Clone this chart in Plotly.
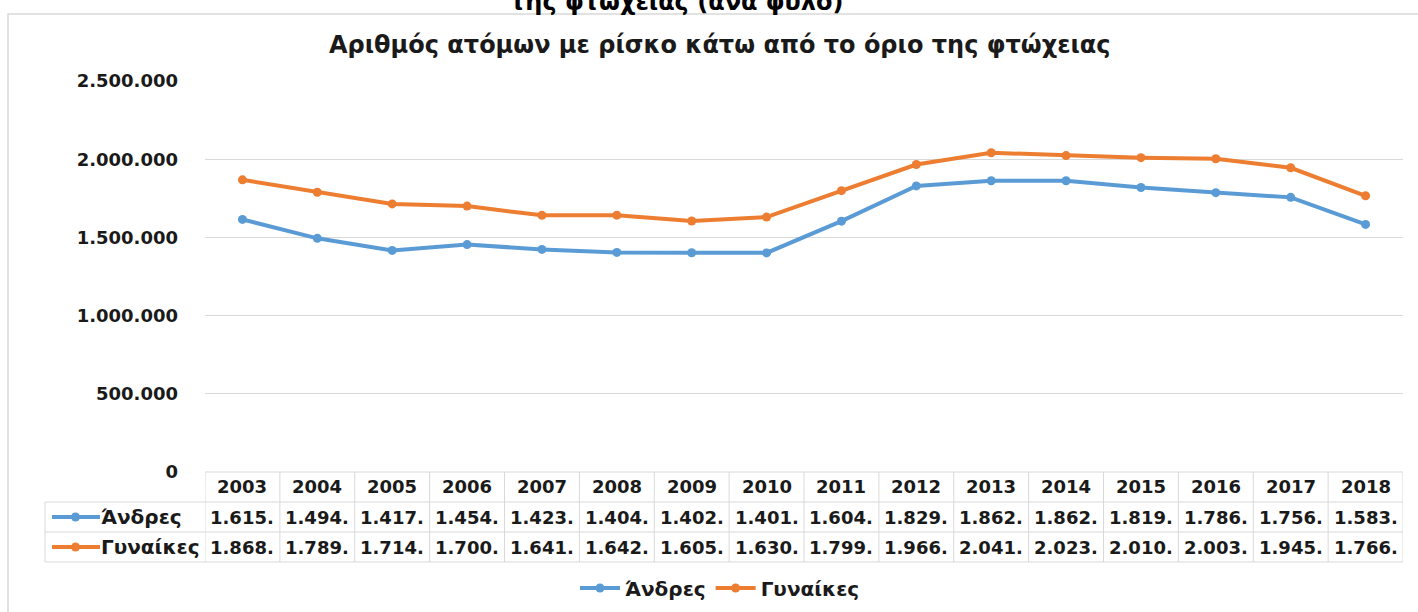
import plotly.graph_objects as go

years = [2003, 2004, 2005, 2006, 2007, 2008, 2009, 2010,
         2011, 2012, 2013, 2014, 2015, 2016, 2017, 2018]
andres = [1615000, 1494000, 1417000, 1454000, 1423000, 1404000, 1402000, 1401000,
          1604000, 1829000, 1862000, 1862000, 1819000, 1786000, 1756000, 1583000]
gynaikes = [1868000, 1789000, 1714000, 1700000, 1641000, 1642000, 1605000, 1630000,
            1799000, 1966000, 2041000, 2023000, 2010000, 2003000, 1945000, 1766000]
series_names = ["Άνδρες", "Γυναίκες"]
colors = ["#5B9BD5", "#ED7D31"]
y_ticks = [0, 500000, 1000000, 1500000, 2000000, 2500000]

W, H = 1418, 612
FONT = "DejaVu Sans"
GRID = "#d9d9d9"


def py(pix):
    # pixel row -> paper fraction
    return 1 - pix / H


def dotted(v):
    return f"{v:,}".replace(",", ".")


def cut(v):
    # the data table shows the numbers cut after the thousands
    return dotted(v // 1000) + "."


idx = list(range(len(years)))
fig = go.Figure()
for name, vals, col in zip(series_names, [andres, gynaikes], colors):
    fig.add_trace(go.Scatter(
        x=idx, y=vals, name=name, mode="lines+markers",
        line=dict(color=col, width=4),
        marker=dict(color=col, size=9),
    ))

plot_top, plot_bot = 81, 472
row_h = 30
shapes = []
annots = []

# outer chart border (only top and left are inside the picture)
shapes.append(dict(type="rect", xref="paper", yref="paper",
                   x0=8 / W, x1=1425 / W, y0=py(620), y1=py(14),
                   line=dict(color=GRID, width=1.5)))

# data table grid
n = len(years)
for i in range(n + 1):
    shapes.append(dict(type="line", xref="x", yref="paper",
                       x0=i - 0.5, x1=i - 0.5, y0=py(plot_bot), y1=py(plot_bot + 3 * row_h),
                       line=dict(color=GRID, width=1)))
shapes.append(dict(type="line", xref="x", yref="paper",
                   x0=-0.5, x1=n - 0.5, y0=py(plot_bot), y1=py(plot_bot),
                   line=dict(color=GRID, width=1)))
for r in (1, 2, 3):
    shapes.append(dict(type="line", xref="paper", yref="paper",
                       x0=45 / W, x1=1403 / W,
                       y0=py(plot_bot + r * row_h), y1=py(plot_bot + r * row_h),
                       line=dict(color=GRID, width=1)))
shapes.append(dict(type="line", xref="paper", yref="paper",
                   x0=45 / W, x1=45 / W, y0=py(plot_bot + row_h), y1=py(plot_bot + 3 * row_h),
                   line=dict(color=GRID, width=1)))

cell_font = dict(family=FONT, size=18, color="#1a1a1a", weight="bold")
label_font = dict(family=FONT, size=20, color="#1a1a1a", weight="bold")
for i, yr in enumerate(years):
    annots.append(dict(x=i, y=py(plot_bot + row_h / 2), xref="x", yref="paper",
                       xanchor="center", yanchor="middle",
                       text=str(yr), showarrow=False, font=cell_font))
for r, (vals, col, name) in enumerate(zip([andres, gynaikes], colors, series_names)):
    yc = py(plot_bot + row_h * (r + 1.5))
    for i, v in enumerate(vals):
        annots.append(dict(x=i, y=yc, xref="x", yref="paper",
                           xanchor="center", yanchor="middle",
                           text=cut(v), showarrow=False, font=cell_font))
    # legend key inside the table
    shapes.append(dict(type="line", xref="paper", yref="paper",
                       x0=52 / W, x1=100 / W, y0=yc, y1=yc,
                       line=dict(color=col, width=4)))
    shapes.append(dict(type="circle", xref="paper", yref="paper",
                       x0=71 / W, x1=80 / W,
                       y0=yc - 4.5 / H, y1=yc + 4.5 / H,
                       fillcolor=col, line=dict(color=col, width=0)))
    annots.append(dict(x=99 / W, y=yc, xref="paper", yref="paper",
                       xanchor="left", yanchor="middle",
                       text=name, showarrow=False, font=label_font))

# chart title and the clipped heading above the chart
annots.append(dict(x=720 / W, y=py(45), xref="paper", yref="paper",
                   xanchor="center", yanchor="middle",
                   text="Αριθμός ατόμων με ρίσκο κάτω από το όριο της φτώχειας",
                   showarrow=False, font=dict(family=FONT, size=24, color="#1a1a1a", weight="bold")))
annots.append(dict(x=676 / W, y=py(18), xref="paper", yref="paper",
                   xanchor="center", yanchor="bottom",
                   text="της φτώχειας (ανά φύλο)",
                   showarrow=False, font=dict(family=FONT, size=24, color="#000", weight="bold")))

fig.update_layout(
    width=W, height=H,
    margin=dict(l=0, r=0, t=0, b=0, autoexpand=False),
    paper_bgcolor="white", plot_bgcolor="white",
    showlegend=True,
    legend=dict(orientation="h", x=720 / W, xanchor="center", y=py(588), yanchor="middle",
                font=label_font, itemwidth=40, bgcolor="rgba(0,0,0,0)"),
    xaxis=dict(domain=[205 / W, 1403 / W], range=[-0.5, n - 0.5], automargin=False,
               showticklabels=False, showgrid=False, zeroline=False, ticks=""),
    yaxis=dict(domain=[py(plot_bot), py(plot_top)], range=[0, 2500000], automargin=False,
               tickvals=y_ticks, ticktext=[dotted(v) for v in y_ticks],
               showgrid=True, gridcolor=GRID, gridwidth=1, zeroline=False,
               ticklabelstandoff=26,
               tickfont=dict(family=FONT, size=18, color="#1a1a1a", weight="bold")),
    shapes=shapes, annotations=annots,
)

# the page's default body margin would shift the chart by 8px
fig.write_html("out.html", config={"displayModeBar": False},
               post_script="document.body.style.margin='0';document.body.style.overflow='hidden';")
